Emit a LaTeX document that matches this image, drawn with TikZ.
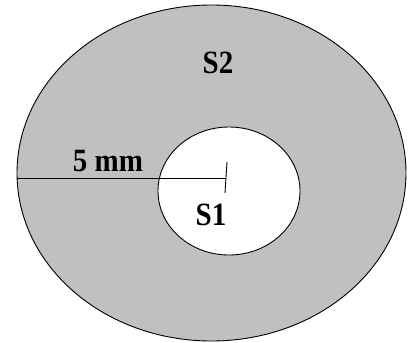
\documentclass[tikz,border=0pt]{standalone}
\usepackage{fontspec}
\setmainfont{Liberation Serif}
\begin{document}
\begin{tikzpicture}[x=1pt,y=-1pt,
  lbl/.style={font=\fontsize{29}{32}\selectfont\bfseries, inner sep=0pt, yscale=1.12, transform shape},
  edge/.style={line width=0.9pt, draw=black}]
\useasboundingbox (0,0) rectangle (410,343);
\definecolor{ringgray}{RGB}{192,192,192}
\filldraw[edge, fill=ringgray] (211.5,173) ellipse [x radius=194.5, y radius=168];
\filldraw[edge, fill=white] (229,191) ellipse [x radius=71, y radius=64];
\coordinate (left) at (17,178);
\coordinate (ctr) at (226,178);
\coordinate (ttop) at (227,162);
\coordinate (tbot) at (225,193);
\draw[edge] (left) -- (ctr);
\draw[edge] (ttop) -- (tbot);
\node[lbl] (mm) at (108,161) {5 mm};
\node[lbl] (s2) at (218,63) {S2};
\node[lbl] (s1) at (211,215) {S1};
\end{tikzpicture}
\end{document}
